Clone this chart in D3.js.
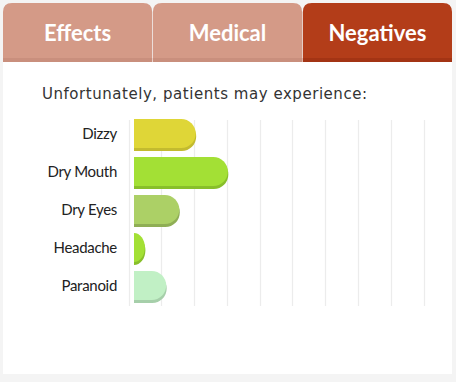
<!DOCTYPE html>
<html lang="en">
<head>
<meta charset="utf-8">
<title>Negatives</title>
<script src="https://cdn.jsdelivr.net/npm/d3@7"></script>
<style>
  body { margin: 0; background: #f4f4f4; }
  svg { display: block; }
</style>
</head>
<body>
<script>
// data
var tabs = ["Effects", "Medical", "Negatives"];
var activeTab = "Negatives";
var effects = ["Dizzy", "Dry Mouth", "Dry Eyes", "Headache", "Paranoid"];
var amounts = [2.05, 3.03, 1.55, 0.5, 1.15];
var barColors = ["#dfd637", "#a3e035", "#acd066", "#a3e035", "#c1f0c5"];
var shadowColors = ["#c3bb2f", "#88bf2a", "#8fae55", "#88bf2a", "#a6cfaa"];
var ticks = [0, 1, 2, 3, 4, 5, 6, 7, 8, 9];

var w = 456, h = 382;

var svg = d3.select("body").append("svg")
  .attr("width", w)
  .attr("height", h);

// white panel
svg.append("rect")
  .attr("x", 3).attr("y", 60)
  .attr("width", 449).attr("height", 314)
  .attr("fill", "#fff");

// tabs
var tabScale = d3.scaleBand().domain(tabs).range([3, 452]).paddingInner(0.005);

function tabPath(x, y, tw, th, r) {
  return "M" + x + "," + (y + th) +
    "V" + (y + r) +
    "Q" + x + "," + y + " " + (x + r) + "," + y +
    "H" + (x + tw - r) +
    "Q" + (x + tw) + "," + y + " " + (x + tw) + "," + (y + r) +
    "V" + (y + th) + "Z";
}

var tabG = svg.selectAll(".tab")
  .data(tabs)
  .enter()
  .append("g")
  .attr("class", "tab");

tabG.append("path")
  .attr("d", function(d) { return tabPath(tabScale(d), 3, tabScale.bandwidth(), 59, 9); })
  .attr("fill", function(d) { return d == activeTab ? "#b33d19" : "#d49a87"; });

tabG.append("rect")
  .attr("x", function(d) { return tabScale(d); })
  .attr("y", 58)
  .attr("width", tabScale.bandwidth())
  .attr("height", 4)
  .attr("fill", function(d) { return d == activeTab ? "#a33414" : "#c98f7d"; });

tabG.append("text")
  .attr("x", function(d) { return tabScale(d) + tabScale.bandwidth() / 2; })
  .attr("y", 41)
  .attr("text-anchor", "middle")
  .attr("font-family", "Lato, 'Open Sans', sans-serif")
  .attr("font-size", "22px")
  .attr("font-weight", "bold")
  .attr("fill", "#fff")
  .text(function(d) { return d; });

// caption
svg.append("text")
  .attr("x", 42)
  .attr("y", 99)
  .attr("font-family", "'DejaVu Sans', Verdana, sans-serif")
  .attr("font-size", "15px")
  .attr("textLength", 325)
  .attr("lengthAdjust", "spacing")
  .attr("fill", "#333")
  .text("Unfortunately, patients may experience:");

// scales
var xScale = d3.scaleLinear().domain([0, 9]).range([128.5, 423.5]);
var yScale = d3.scaleBand().domain(effects).range([119, 303]).paddingInner(0.158).paddingOuter(0);

// gridlines
svg.selectAll(".grid")
  .data(ticks)
  .enter()
  .append("line")
  .attr("class", "grid")
  .attr("x1", function(d) { return Math.round(xScale(d)) + 0.5; })
  .attr("x2", function(d) { return Math.round(xScale(d)) + 0.5; })
  .attr("y1", 120)
  .attr("y2", 306)
  .attr("stroke", "#ececec")
  .attr("stroke-width", 1.2);

// labels
svg.selectAll(".label")
  .data(effects)
  .enter()
  .append("text")
  .attr("class", "label")
  .attr("x", 117)
  .attr("y", function(d) { return yScale(d) + yScale.bandwidth() / 2 + 4; })
  .attr("text-anchor", "end")
  .attr("font-family", "Lato, 'Open Sans', sans-serif")
  .attr("font-size", "15px")
  .attr("letter-spacing", "-0.3px")
  .attr("fill", "#222")
  .text(function(d) { return d; });

// bars: left edge square, right end rounded, with a darker under-shadow
var barStart = 134;
var data = effects.map(function(e, i) {
  return { name: e, value: amounts[i], color: barColors[i], shadow: shadowColors[i] };
});

function barPath(x0, x1, y, bh) {
  var r = Math.min(bh / 2, x1 - x0);
  return "M" + x0 + "," + y +
    "H" + (x1 - r) +
    "A" + r + "," + (bh / 2) + " 0 0 1 " + (x1 - r) + "," + (y + bh) +
    "H" + x0 + "Z";
}

var barG = svg.selectAll(".bar")
  .data(data)
  .enter()
  .append("g")
  .attr("class", "bar");

barG.append("path")
  .attr("d", function(d) {
    return barPath(barStart, xScale(d.value) + 0.5, yScale(d.name) + 3, yScale.bandwidth() - 3);
  })
  .attr("fill", function(d) { return d.shadow; });

barG.append("path")
  .attr("d", function(d) {
    return barPath(barStart, xScale(d.value), yScale(d.name), yScale.bandwidth() - 3);
  })
  .attr("fill", function(d) { return d.color; });
</script>
</body>
</html>
